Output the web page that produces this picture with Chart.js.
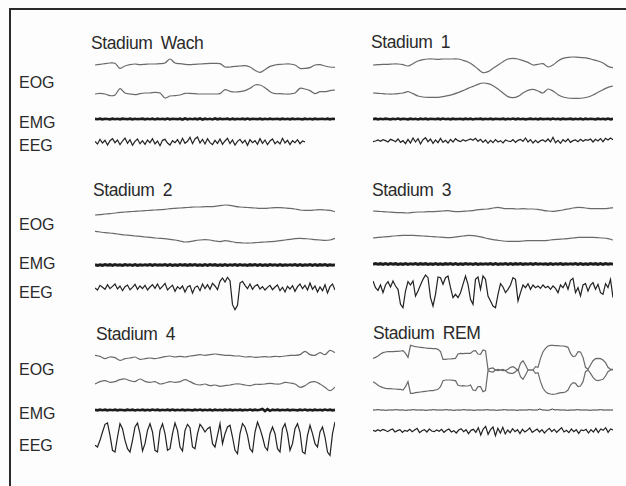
<!DOCTYPE html>
<html>
<head>
<meta charset="utf-8">
<script src="https://cdn.jsdelivr.net/npm/chart.js@4.4.1/dist/chart.umd.min.js"></script>
<style>
body { margin: 0; background: #fff; }
#page { position: relative; width: 626px; height: 486px; overflow: hidden; background: #fdfdfd;
        font-family: "Liberation Sans", Arial, sans-serif; color: #2a2a2a; }
#frame { position: absolute; left: 9px; top: 8px; width: 640px; height: 500px;
         border-left: 2px solid #2a2a2a; border-top: 2px solid #2a2a2a; }
.title { position: absolute; font-size: 17.5px; line-height: 1; letter-spacing: -0.4px; word-spacing: 4px; white-space: nowrap; }
.lab { position: absolute; font-size: 16px; line-height: 1; }
canvas { position: absolute; }
</style>
</head>
<body>
<div id="page"><div id="frame"></div></div>
<script>
// amplitudes in arbitrary units (3 units = 1 px of the scan), up is positive
const wachEog1 = [0,2,4,6,5,-10,-3,1,3,1,2,3,3,4,6,18,6,4,2,1,2,3,4,5,5,4,-6,-6,-4,-3,-2,-6,-16,-22,-14,-4,0,2,3,3,0,-10,-10,-8,0,1,-3,-6,-7];
const wachEog2 = [0,2,0,-5,-3,16,3,0,-2,1,3,3,5,3,-12,-6,-5,-3,2,2,1,0,0,0,0,1,13,8,6,7,10,17,27,27,19,7,1,1,0,0,3,17,15,10,1,7,7,10,12];
const wachEmg = [1,-1,2,-2,1,0,-2,2,-1,1,-2,2,0,-1,2,-2,1,-1,0,2,-2,1,-1,2,-3,2,-1,1,-2,3,-2,1,0,-1,2,-3,3,-2,1,-1,2,-2,3,-3,2,-1,1,-3,3,-2,2,-1,0,2,-3,2,-2,1,-1,2,-2,3,-2,1,0,-1,2,-2,1,-1,2,-1,0,1,-2,2,-1,1,-2,2,-1,1,0,-2,2,-1,1,-2,2,-1,0,1,-1,2,-2,1,0];
const wachEeg = [2,-6,8,-3,5,-9,4,10,-2,6,-8,3,12,-4,7,-10,2,9,-5,4,-7,6,-2,10,-6,3,-11,5,8,-3,-9,4,-2,7,-6,11,-4,2,14,-5,9,15,-3,8,-6,10,-2,-8,5,-4,9,-7,3,11,-5,6,-9,2,8,-3,5,-10,7,-2,4,-7,10,-4,6,-8,3,9,-5,2,-6,11,-3,5,-8,4,-2,7,-5,3,0];

const st1Eog1 = [0,1,2,2,3,3,1,-3,4,12,16,18,18,17,18,18,18,18,14,9,0,-12,-23,-20,-10,0,10,18,20,18,13,8,0,2,4,-6,0,12,20,23,24,23,22,20,16,12,6,-4,-8];
const st1Eog2 = [0,-1,-2,-3,-3,-2,0,4,-2,-9,-12,-13,-13,-13,-11,-8,-4,1,7,14,20,26,30,28,22,12,0,-11,-14,-10,0,8,11,6,0,12,6,-5,-12,-15,-16,-16,-15,-12,-6,2,10,17,21];
const st1Emg = [-1,2,-2,1,-1,2,0,-2,1,-1,3,-2,1,0,-2,2,-1,1,-3,2,-1,2,-2,1,0,-1,2,-2,3,-1,1,-2,2,-1,0,1,-2,2,-1,2,-3,1,0,2,-2,1,-1,2,-2,1,0,-1,2,-2,1,-1,3,-2,2,-1,1,-2,0,2,-1,1,-2,2,-1,0,1,-2,3,-1,1,-2,2,-1,0,2,-2,1,-1,2,-3,2,-1,1,0,-2,2,-1,1,-2,3,-2,1];
const st1Eeg = [-2,0,3,-1,4,1,-3,5,2,-2,6,-4,1,-8,5,-6,9,-3,7,-9,4,10,-2,6,-7,3,-5,8,-4,2,-6,5,-3,7,1,-2,4,0,3,6,2,8,-1,5,-4,3,-7,2,-5,4,-3,1,-6,3,0,-2,4,-4,2,5,-1,9,-3,4,-6,2,-5,1,3,-2,6,-3,11,-5,2,-7,4,-2,6,-4,1,3,-2,5,-1,4,2,6,-3,5,0,7,-2,8,3,9,4];

const st2Eog1 = [-12,-11,-9,-8,-6,-4,-3,-2,-1,0,1,2,3,4,5,7,8,9,10,11,12,12,13,13,14,16,18,17,14,12,11,10,9,8,8,9,10,10,9,8,6,3,2,2,3,4,3,2,-2];
const st2Eog2 = [20,18,16,15,13,11,9,8,6,5,3,2,0,-1,-2,-4,-6,-9,-12,-11,-8,-6,-5,-6,-9,-11,-8,-10,-13,-14,-15,-15,-14,-13,-12,-11,-10,-8,-6,-4,-2,-1,-2,-3,-5,-6,-7,-6,-1];
const st2Emg = [2,-3,1,-2,3,-1,2,-3,2,-2,1,-3,3,-1,2,-2,3,-3,1,-2,2,-1,3,-3,2,-2,1,-1,3,-2,2,-3,1,-2,3,-1,2,-3,2,-1,3,-2,1,-3,2,-2,3,-1,2,-3,1,-2,3,-2,2,-1,3,-3,2,-2,1,-3,2,-1,3,-2,2,-3,1,-2,3,-1,2,-2,3,-3,1,-2,2,-1,3,-2,2,-3,1,-1,3,-2,2,-3,2,-1,3,-2,1,-2,2];
const st2Eeg = [0,-6,8,2,-4,10,-2,5,12,-3,6,-8,4,9,-5,2,11,-4,6,-2,8,-6,3,10,-1,12,-3,5,14,-6,2,8,-10,4,-3,6,-12,3,7,-15,2,6,-8,12,-2,10,-4,14,6,-5,
  20,30,18,32,22,-50,-65,-52,15,20,
  8,-2,12,-4,6,10,-3,4,-6,2,8,-5,3,9,-8,2,-12,5,-3,7,-10,4,12,-2,8,-6,15,-4,6,-12,3,-8,10,-15,4,12,-6];

const st3Eog1 = [0,-1,-2,-3,-4,-5,-5,-6,-4,-3,-3,-2,-2,-1,0,1,-1,-2,-1,0,1,4,5,6,9,11,8,7,7,6,7,6,6,5,2,0,-1,1,3,6,9,11,10,8,7,7,7,8,10];
const st3Eog2 = [0,2,3,4,6,7,8,8,8,7,6,5,4,3,2,1,2,4,6,8,7,5,2,-2,-5,-7,-9,-10,-10,-10,-9,-8,-8,-8,-8,-7,-5,-4,-3,-2,0,2,2,2,2,1,0,-2,-6];
const st3Emg = [-2,3,-1,2,-3,2,-2,3,-1,2,-3,1,-2,3,-2,2,-1,3,-3,2,-1,2,-3,1,-2,3,-2,1,-3,2,-1,3,-2,2,-3,1,-2,3,-1,2,-2,3,-3,1,-2,2,-1,3,-2,2,-3,1,-1,3,-2,2,-3,2,-1,3,-2,1,-2,2,-3,3,-1,2,-2,1,-3,3,-2,2,-1,3,-3,1,-2,2,-1,3,-2,2,-3,1,-2,3,-1,2,-3,2,-2,3,-1,2,-2];
const st3Eeg = [15,-5,-13,3,-20,3,13,-3,15,0,-10,-55,-65,-15,13,3,15,-30,-15,3,20,33,25,-35,-60,-25,27,25,5,25,30,-5,-35,-25,-35,-20,5,30,5,-40,-55,20,27,-10,30,20,-30,-45,-60,-65,-25,7,-3,-20,-10,3,25,20,-45,-20,3,-5,7,-10,3,-5,0,-7,3,-5,-1,-10,0,-7,-20,3,-5,10,-10,17,23,-20,-5,-30,3,7,-15,3,10,-10,5,-20,-25,7,-5,20,-35];

const st4Eog1 = [5,2,-5,0,-2,-10,-5,-3,0,-7,-5,-3,-5,-2,1,3,0,2,0,3,5,7,5,7,9,7,5,5,3,3,0,1,-1,0,1,0,2,1,3,5,5,7,17,7,5,13,7,20,13];
const st4Eog2 = [-3,4,7,2,4,10,12,7,4,12,5,2,4,-3,0,4,2,4,10,4,-3,-6,-3,-8,-6,-10,-8,-6,-3,-3,-6,-8,-4,-4,-3,-1,-3,-3,2,0,-3,-13,-8,2,4,-3,-13,-23,-13];
const st4Emg = [1,-2,2,-1,2,-2,1,-1,2,-2,1,0,-2,2,-1,2,-3,1,-1,2,-2,1,-2,3,-1,2,-2,1,-1,2,-2,3,-2,1,-1,2,-2,1,0,-2,2,-1,3,-2,1,-1,2,-3,2,-1,1,-2,2,-1,2,-2,1,-1,2,-2,1,-1,3,-2,2,-1,1,6,-6,5,-5,2,-1,2,-2,1,-1,2,-2,1,0,-2,2,-1,3,-2,1,-2,2,-1,1,-2,3,-1,2,-2,1];
const st4Eeg = [-25,-30,-10,15,38,42,5,-40,-45,0,40,25,-10,-35,-45,-10,30,42,10,-42,-20,20,40,15,-40,-45,20,40,10,-40,-35,10,42,20,-30,-42,20,38,28,-30,-35,10,38,28,15,25,30,-20,-30,5,40,-20,10,30,35,0,-40,-50,10,40,30,5,-35,-45,15,45,25,0,-30,-40,10,30,10,-35,-45,25,40,10,-40,-20,25,40,15,-45,-50,5,35,10,-20,-30,15,30,0,-45,-55,10,45];

const remEog1 = [35,38,42,48,52,54,55,55,55,56,56,57,58,50,38,74,72,70,69,68,67,66,65,65,64,64,62,55,32,32,33,33,34,35,48,50,49,50,50,50,57,58,48,47,60,58,2,5,6,0,2,0,-2,-1,2,8,10,5,-2,20,28,15,0,0,0,10,8,35,55,65,72,74,74,73,73,72,72,71,68,50,40,42,55,54,38,8,2,15,28,34,35,34,30,22,8,2,2];
const remEog2 = [-35,-40,-46,-50,-53,-55,-56,-56,-57,-57,-58,-58,-60,-50,-35,-70,-70,-68,-67,-66,-65,-64,-63,-62,-62,-60,-58,-50,-32,-30,-30,-30,-31,-32,-46,-48,-47,-48,-48,-45,-60,-62,-50,-50,-65,-62,-2,-5,-6,0,-2,0,2,-2,-8,-10,-10,-5,2,-20,-28,-15,0,0,0,-10,-8,-35,-55,-65,-70,-72,-73,-72,-70,-68,-68,-66,-60,-45,-38,-40,-50,-48,-35,-5,0,-10,-22,-30,-32,-30,-28,-18,-5,0,0];
const remEmg = [0,0,1,0,0,-1,0,0,0,1,0,0,0,-1,0,0,1,0,0,0,0,-1,0,0,1,0,0,0,0,1,0,0,-1,0,0,0,1,0,0,0,-1,0,0,0,0,1,0,0,0,-1,0,0,1,0,0,0,0,-1,0,0,0,0,1,0,0,0,3,0,0,-1,0,3,0,1,0,0,0,-1,0,0,0,1,0,0,0,0,-1,0,0,0,1,0,0,0,0,0];
const remEeg = [2,-1,4,0,5,2,-2,3,6,-3,1,4,-4,2,-1,5,-2,3,8,-5,1,4,-3,6,0,-2,3,-1,5,-4,2,6,-3,1,-6,3,7,-2,4,-8,2,5,-4,10,-12,6,14,-10,4,12,-14,8,-6,11,-9,3,-5,7,-2,4,-8,5,-3,2,9,-4,1,6,-3,4,-6,2,8,-2,5,-4,3,10,-3,2,-5,6,-2,4,-7,3,1,5,-6,4,-3,8,-5,6,2,10,-4,6,3];

const stageTitles = ['Stadium Wach', 'Stadium 1', 'Stadium 2', 'Stadium 3', 'Stadium 4', 'Stadium REM'];
const channelLabels = ['EOG', 'EMG', 'EEG'];

// ---- layout (pixels) ----
const page = document.getElementById('page');
const H = 80;              // canvas height for each trace
const RANGE = H * 3 / 2;   // units per half canvas

const titlePos = [[91, 35], [371, 34], [93, 182], [372, 182], [96, 326], [373, 325]];
const labelTops = [[75, 115, 138], [217, 256, 285], [362, 406, 438]];

const eogStyle = { color: '#6a6a6a', lw: 1.2, tension: 0.3, gain: 1 };
const emgStyle = { color: '#1c1c1c', lw: 2.6, tension: 0, gain: 0.5 };
const eegStyle = { color: '#222', lw: 1.2, tension: 0, gain: 1 };

const traces = [
    { data: wachEog1, x: 95, w: 240, mid: 65.3, ...eogStyle },
    { data: wachEog2, x: 95, w: 240, mid: 93.7, ...eogStyle },
    { data: wachEmg, x: 95, w: 240, mid: 119.3, ...emgStyle },
    { data: wachEeg, x: 95, w: 210, mid: 142, ...eegStyle },
    { data: st1Eog1, x: 373, w: 240, mid: 65.3, ...eogStyle },
    { data: st1Eog2, x: 373, w: 240, mid: 92.7, ...eogStyle },
    { data: st1Emg, x: 373, w: 240, mid: 118.7, ...emgStyle },
    { data: st1Eeg, x: 373, w: 240, mid: 141.3, ...eegStyle },
    { data: st2Eog1, x: 95, w: 240, mid: 211.3, ...eogStyle },
    { data: st2Eog2, x: 95, w: 240, mid: 238, ...eogStyle },
    { data: st2Emg, x: 95, w: 240, mid: 264.7, ...emgStyle, lw: 3 },
    { data: st2Eeg, x: 95, w: 240, mid: 288, ...eegStyle },
    { data: st3Eog1, x: 373, w: 240, mid: 211.3, ...eogStyle, tension: 0.15 },
    { data: st3Eog2, x: 373, w: 240, mid: 238, ...eogStyle, tension: 0.15 },
    { data: st3Emg, x: 373, w: 240, mid: 264, ...emgStyle, lw: 3 },
    { data: st3Eeg, x: 373, w: 240, mid: 286.3, ...eegStyle },
    { data: st4Eog1, x: 95, w: 240, mid: 357, ...eogStyle },
    { data: st4Eog2, x: 95, w: 240, mid: 382.7, ...eogStyle },
    { data: st4Emg, x: 95, w: 240, mid: 410.3, ...emgStyle },
    { data: st4Eeg, x: 95, w: 240, mid: 437, ...eegStyle },
    { data: remEog1, x: 373, w: 240, mid: 370, ...eogStyle, tension: 0 },
    { data: remEog2, x: 373, w: 240, mid: 370, ...eogStyle, tension: 0 },
    { data: remEmg, x: 373, w: 240, mid: 410, color: '#333', lw: 1, tension: 0, gain: 1 },
    { data: remEeg, x: 373, w: 240, mid: 430.7, ...eegStyle },
];

function drawTrace(t) {
    const c = document.createElement('canvas');
    c.width = t.w;
    c.height = H;
    c.style.left = t.x + 'px';
    c.style.top = (t.mid - H / 2) + 'px';
    page.appendChild(c);
    new Chart(c, {
        type: 'line',
        data: {
            labels: t.data.map((_, i) => i),
            datasets: [{
                data: t.data,
                borderColor: t.color,
                borderWidth: t.lw,
                pointRadius: 0,
                tension: t.tension,
                fill: false,
                clip: false
            }]
        },
        options: {
            responsive: false,
            animation: false,
            events: [],
            layout: { padding: 0 },
            plugins: { legend: { display: false }, tooltip: { enabled: false } },
            scales: {
                x: { display: false, offset: false },
                y: { display: false, min: -RANGE / t.gain, max: RANGE / t.gain }
            }
        }
    });
}

stageTitles.forEach((s, i) => {
    const d = document.createElement('div');
    d.className = 'title';
    d.textContent = s;
    d.style.left = titlePos[i][0] + 'px';
    d.style.top = titlePos[i][1] + 'px';
    page.appendChild(d);
});

labelTops.forEach(row => {
    row.forEach((top, j) => {
        const d = document.createElement('div');
        d.className = 'lab';
        d.textContent = channelLabels[j];
        d.style.left = '19px';
        d.style.top = top + 'px';
        page.appendChild(d);
    });
});

traces.forEach(drawTrace);
</script>
</body>
</html>
